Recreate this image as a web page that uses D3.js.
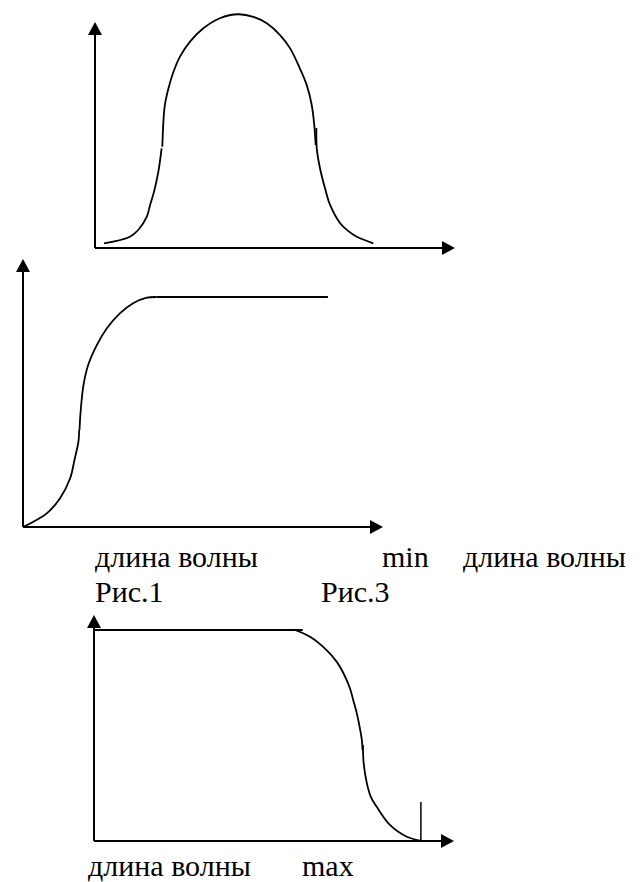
<!DOCTYPE html>
<html>
<head>
<meta charset="utf-8">
<script src="https://cdn.jsdelivr.net/npm/d3@7"></script>
<style>
  body { margin: 0; background: #fff; }
  svg { display: block; }
</style>
</head>
<body>
<div id="chart"></div>
<script>
// Data: wavelength (0-100) vs. intensity (0-100), each curve drawn in arcs
// Рис.1 - bell shaped curve
var bellLower1 = [[2.5, 2.0], [5.1, 2.7], [9.7, 4.8], [12.0, 7.7], [14.4, 13.4], [15.3, 18.4], [16.4, 24.1], [17.6, 32.6], [18.5, 42.6]];
var bellUpper = [[18.7, 43.3], [19.0, 54.0], [19.4, 61.1], [20.4, 68.2], [21.8, 75.3], [23.6, 81.8], [26.4, 88.2], [30.1, 93.9],
  [34.7, 98.2], [39.8, 99.9], [44.0, 98.8], [47.7, 96.0], [51.4, 91.0], [54.2, 85.3], [56.9, 76.8], [58.8, 69.7],
  [60.2, 61.1], [60.9, 52.6], [61.3, 44.0]];
var bellLower2 = [[61.5, 51.3], [61.6, 42.6], [62.5, 34.1], [63.9, 25.5], [65.3, 18.4], [68.1, 10.6], [70.3, 7.3], [72.7, 4.8], [77.3, 2.0]];

// Рис.3 - rising curve with plateau
var riseLower = [[0, 0], [2.9, 2.3], [6.6, 5.9], [10.3, 12.5], [13.1, 21.2], [14.4, 29.9], [15.4, 37.1], [15.6, 42.2]];
var riseUpper = [[15.7, 42.2], [16.0, 50.1], [16.8, 61.7], [18.1, 70.4], [20.5, 79.1], [23.3, 86.4], [26.9, 92.9],
  [30.6, 97.3], [34.4, 99.7], [37.1, 100]];
var riseFlat = [[37.1, 100], [84.7, 100]];

// third plot - plateau then falling curve
var fallFlat = [[0, 100], [58.0, 100]];
var fallUpper = [[55.8, 100], [60.0, 96.8], [64.6, 90.5], [67.4, 85.0], [69.3, 79.5], [71.1, 72.4], [72.0, 66.8],
  [73.0, 60.5], [73.8, 54.0], [74.4, 47.9], [74.6, 43.1]];
var fallLower = [[74.7, 45.5], [74.9, 37.0], [75.8, 27.3], [76.9, 20.9], [78.5, 16.3], [82.2, 7.6], [86.9, 2.0], [90.6, 0.2]];
var fallMarker = [90.8, 18.5];

var labelsTop = ["длина волны", "min", "длина волны"];
var figNames = ["Рис.1", "Рис.3"];
var labelsBottom = ["длина волны", "max"];

var svg = d3.select("#chart").append("svg")
  .attr("width", 640)
  .attr("height", 882);

// text labels
var topPos = [[95, 567], [382, 567], [463, 567]];
var figPos = [[95, 602], [321, 602]];
var bottomPos = [[88, 876], [302, 876]];

function addLabels(texts, pos) {
  svg.selectAll(null)
    .data(texts)
    .enter()
    .append("text")
    .attr("x", (d, i) => pos[i][0])
    .attr("y", (d, i) => pos[i][1])
    .style("font-family", "'Liberation Serif', 'Times New Roman', serif")
    .style("font-size", "30px")
    .text(d => d);
}
addLabels(labelsTop, topPos);
addLabels(figNames, figPos);
addLabels(labelsBottom, bottomPos);

// arrowhead drawn as a path at the end of an axis line
function arrow(g, x1, y1, x2, y2) {
  var a = Math.atan2(y2 - y1, x2 - x1), len = 13, hw = 7;
  var bx = x2 - len * Math.cos(a), by = y2 - len * Math.sin(a);
  var px = -Math.sin(a) * hw, py = Math.cos(a) * hw;
  g.append("line")
    .attr("x1", x1).attr("y1", y1)
    .attr("x2", bx).attr("y2", by)
    .attr("stroke", "#000").attr("stroke-width", 2);
  g.append("path")
    .attr("d", "M" + x2 + "," + y2 + "L" + (bx + px) + "," + (by + py) + "L" + (bx - px) + "," + (by - py) + "Z")
    .attr("fill", "#000");
}

// plot frames (pixels)
var plots = [
  { left: 95, bottom: 248, axisRight: 455, axisTop: 22, xr: [95, 455], yr: [248, 14],
    parts: [bellLower1, bellUpper, bellLower2] },
  { left: 23, bottom: 527, axisRight: 383, axisTop: 259, xr: [23, 383], yr: [527, 297],
    parts: [riseLower, riseUpper, riseFlat] },
  { left: 94, bottom: 841, axisRight: 454, axisTop: 615, xr: [94, 454], yr: [841, 630],
    parts: [fallFlat, fallUpper, fallLower], marker: fallMarker }
];

plots.forEach(function(p) {
  var x = d3.scaleLinear().domain([0, 100]).range(p.xr);
  var y = d3.scaleLinear().domain([0, 100]).range(p.yr);
  var g = svg.append("g");

  arrow(g, p.left, p.bottom, p.axisRight, p.bottom);
  arrow(g, p.left, p.bottom, p.left, p.axisTop);

  var line = d3.line()
    .x(d => x(d[0]))
    .y(d => y(d[1]))
    .curve(d3.curveCatmullRom.alpha(0.5));

  g.selectAll("path.curve")
    .data(p.parts)
    .enter()
    .append("path")
    .attr("class", "curve")
    .attr("d", line)
    .attr("fill", "none")
    .attr("stroke", "#000")
    .attr("stroke-width", 1.8);

  if (p.marker) {
    g.append("line")
      .attr("x1", x(p.marker[0])).attr("y1", y(0))
      .attr("x2", x(p.marker[0])).attr("y2", y(p.marker[1]))
      .attr("stroke", "#000").attr("stroke-width", 1.5);
  }
});
</script>
</body>
</html>
